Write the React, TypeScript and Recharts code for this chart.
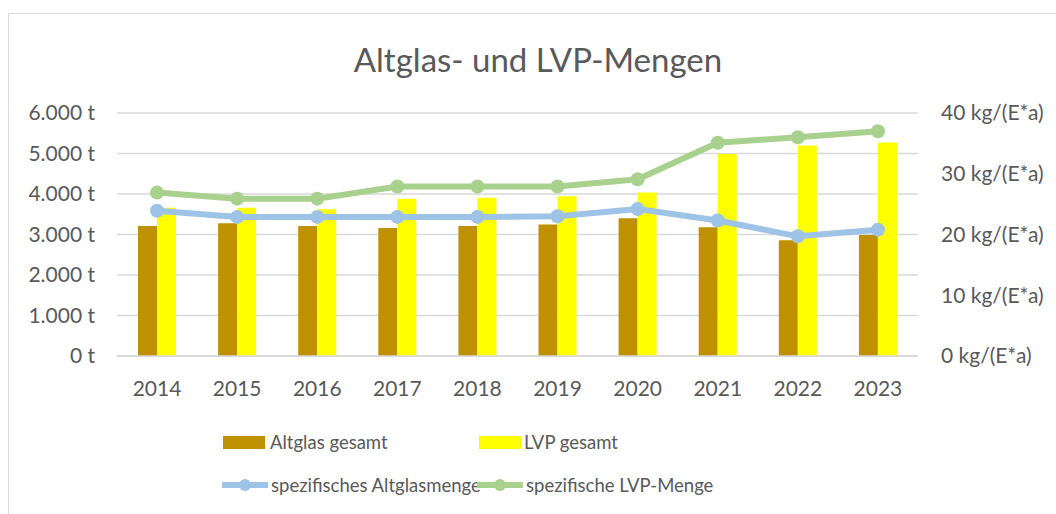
import { Bar, CartesianGrid, ComposedChart, Line, XAxis, YAxis } from 'recharts'

const YEARS = ['2014', '2015', '2016', '2017', '2018', '2019', '2020', '2021', '2022', '2023']
const ALTGLAS_T = [3210, 3280, 3210, 3160, 3210, 3250, 3400, 3180, 2860, 2990]
const LVP_T = [3660, 3660, 3625, 3880, 3910, 3945, 4035, 4990, 5200, 5270]
const ALTGLAS_KG = [23.9, 22.9, 22.9, 22.9, 22.9, 23.0, 24.2, 22.3, 19.7, 20.8]
const LVP_KG = [26.9, 25.9, 25.9, 27.9, 27.9, 27.9, 29.1, 35.1, 36.0, 37.0]
const LEFT_TICKS = [0, 1000, 2000, 3000, 4000, 5000, 6000]
const RIGHT_TICKS = [0, 10, 20, 30, 40]

const FONT = 'Lato, "Noto Sans", sans-serif'
const TEXT = '#595959'
const GRID = '#D9D9D9'
const BROWN = '#BF9000'
const YELLOW = '#FFFF00'
const BLUE = '#9DC3E6'
const GREEN = '#A9D18E'

const fmtTons = (v: number) => String(v).replace(/\B(?=(\d{3})+(?!\d))/g, '.') + ' t'
const fmtKg = (v: number) => `${v} kg/(E*a)`

const data = YEARS.map((year, i) => ({
  year,
  altglas: ALTGLAS_T[i],
  lvp: LVP_T[i],
  altglasKg: ALTGLAS_KG[i],
  lvpKg: LVP_KG[i],
}))

function LineIcon({ color }: { color: string }) {
  return (
    <svg width={46} height={14} style={{ marginRight: 3 }}>
      <line x1={1} y1={7} x2={45} y2={7} stroke={color} strokeWidth={6} strokeLinecap="round" />
      <circle cx={23} cy={7} r={6} fill={color} />
    </svg>
  )
}

export default function App() {
  const tick = { fill: TEXT, fontSize: 21, fontFamily: FONT }
  const legendText = { fontSize: 18.5, color: TEXT, fontFamily: FONT, whiteSpace: 'nowrap' as const }
  return (
    <div style={{ position: 'absolute', left: 0, top: 0, width: 1056, height: 514, overflow: 'hidden', background: '#fff' }}>
      <div style={{ position: 'absolute', left: 8, top: 13, width: 1070, height: 530, border: `1.5px solid ${GRID}` }} />
      <div
        style={{
          position: 'absolute',
          left: 38,
          top: 43,
          width: 1000,
          textAlign: 'center',
          fontFamily: FONT,
          fontSize: 33,
          lineHeight: 1,
          color: TEXT,
        }}
      >
        Altglas- und LVP-Mengen
      </div>
      <div style={{ position: 'absolute', left: 0, top: 0 }}>
        <ComposedChart width={1056} height={514} data={data} margin={{ top: 113, right: 0, bottom: 118, left: 0 }} barGap={0}>
          <CartesianGrid yAxisId="left" vertical={false} stroke={GRID} strokeWidth={1.5} />
          <XAxis
            dataKey="year"
            height={40}
            tick={tick}
            tickLine={false}
            tickSize={0}
            tickMargin={25}
            axisLine={{ stroke: GRID, strokeWidth: 1.5 }}
          />
          <YAxis
            yAxisId="left"
            width={117}
            domain={[0, 6000]}
            ticks={LEFT_TICKS}
            tickFormatter={fmtTons}
            tick={tick}
            tickLine={false}
            tickSize={0}
            tickMargin={22}
            axisLine={false}
          />
          <YAxis
            yAxisId="right"
            orientation="right"
            width={138}
            domain={[0, 40]}
            ticks={RIGHT_TICKS}
            tickFormatter={fmtKg}
            tick={{ ...tick, textAnchor: 'start' }}
            tickLine={false}
            tickSize={0}
            tickMargin={23}
            axisLine={false}
          />
          <Bar yAxisId="left" dataKey="altglas" fill={BROWN} barSize={19} isAnimationActive={false} />
          <Bar yAxisId="left" dataKey="lvp" fill={YELLOW} barSize={19} isAnimationActive={false} />
          <Line
            yAxisId="right"
            type="linear"
            dataKey="lvpKg"
            stroke={GREEN}
            strokeWidth={6}
            dot={{ r: 7, fill: GREEN, stroke: 'none' }}
            activeDot={false}
            isAnimationActive={false}
          />
          <Line
            yAxisId="right"
            type="linear"
            dataKey="altglasKg"
            stroke={BLUE}
            strokeWidth={6}
            dot={{ r: 7, fill: BLUE, stroke: 'none' }}
            activeDot={false}
            isAnimationActive={false}
          />
        </ComposedChart>
      </div>
      <div style={{ position: 'absolute', left: 223, top: 430, display: 'flex', alignItems: 'center', height: 24 }}>
        <div style={{ width: 42, height: 13, background: BROWN, marginRight: 5 }} />
        <span style={legendText}>Altglas gesamt</span>
      </div>
      <div style={{ position: 'absolute', left: 479, top: 430, display: 'flex', alignItems: 'center', height: 24 }}>
        <div style={{ width: 42, height: 13, background: YELLOW, marginRight: 3 }} />
        <span style={legendText}>LVP gesamt</span>
      </div>
      <div style={{ position: 'absolute', left: 222, top: 473, display: 'flex', alignItems: 'center', height: 24 }}>
        <LineIcon color={BLUE} />
        <span style={legendText}>spezifisches Altglasmenge</span>
      </div>
      <div style={{ position: 'absolute', left: 477, top: 473, display: 'flex', alignItems: 'center', height: 24 }}>
        <LineIcon color={GREEN} />
        <span style={legendText}>spezifische LVP-Menge</span>
      </div>
    </div>
  )
}
